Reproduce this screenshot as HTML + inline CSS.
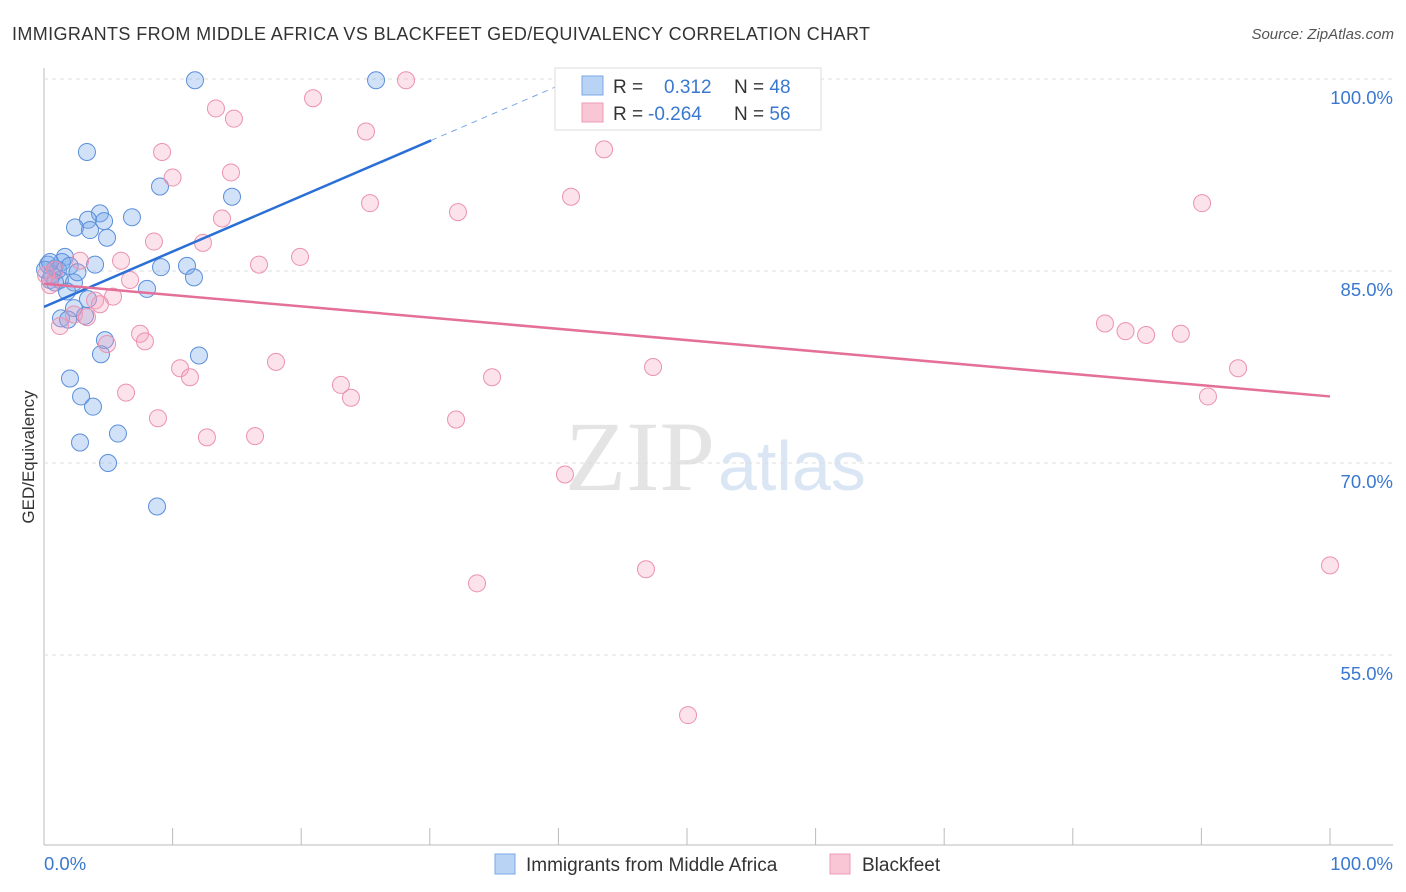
<!DOCTYPE html>
<html><head><meta charset="utf-8"><style>
body{margin:0;background:#fff;font-family:"Liberation Sans",sans-serif}
</style></head><body>
<svg id="c" width="1406" height="892" xmlns="http://www.w3.org/2000/svg" style="display:block">
<text x="12" y="40" font-size="18" fill="#333" textLength="858" lengthAdjust="spacing">IMMIGRANTS FROM MIDDLE AFRICA VS BLACKFEET GED/EQUIVALENCY CORRELATION CHART</text>
<text x="1394" y="39" font-size="15" fill="#555" font-style="italic" text-anchor="end">Source: ZipAtlas.com</text>
<text x="34" y="457" font-size="17" fill="#333" transform="rotate(-90 34 457)" text-anchor="middle">GED/Equivalency</text>
<text x="715" y="490" font-size="100" fill="#e4e4e4" font-family="Liberation Serif" text-anchor="end">ZIP</text>
<text x="718" y="490" font-size="70" fill="#dbe6f5">atlas</text>
<g id="grid"></g><g id="pts"></g><g id="lines"></g>
<g>
<rect x="555" y="68" width="266" height="62" fill="#fff" stroke="#ddd"/>
<rect x="582" y="76" width="21" height="19" fill="#b9d3f5" stroke="#7aa7e6"/>
<rect x="582" y="103" width="21" height="19" fill="#f9c6d5" stroke="#ee9bb5"/>
<text x="613" y="93" font-size="19" fill="#333">R =</text>
<text x="664" y="93" font-size="19" fill="#3a78d0">0.312</text>
<text x="734" y="93" font-size="19" fill="#333">N = <tspan fill="#3a78d0">48</tspan></text>
<text x="613" y="120" font-size="19" fill="#333">R =</text>
<text x="648" y="120" font-size="19" fill="#3a78d0">-0.264</text>
<text x="734" y="120" font-size="19" fill="#333">N = <tspan fill="#3a78d0">56</tspan></text>
</g>
<g>
<rect x="495" y="854" width="20" height="20" fill="#b9d3f5" stroke="#7aa7e6"/>
<text x="526" y="871" font-size="19" fill="#333">Immigrants from Middle Africa</text>
<rect x="830" y="854" width="20" height="20" fill="#f9c6d5" stroke="#ee9bb5"/>
<text x="862" y="871" font-size="19" fill="#333">Blackfeet</text>
</g>
</svg>
<script>
const yTicks=[100,85,70,55];
const yTickLabels=["100.0%","85.0%","70.0%","55.0%"];
const xTickLabels=["0.0%","100.0%"];
const blueX=[11.74,25.82,3.34,9.02,14.62,6.84,4.35,3.42,2.41,3.58,4.67,4.90,1.63,3.97,9.10,11.12,11.66,8.01,0.31,0.86,1.24,0.47,2.33,1.79,3.42,2.33,1.32,1.87,3.19,4.74,4.43,12.05,2.02,2.88,3.81,5.75,2.80,4.98,8.79,0.62,1.09,0.08,0.86,1.4,0.47,2.0,2.6];
const blueY=[99.9,99.9,94.3,91.6,90.8,89.2,89.5,89.0,88.4,88.2,88.9,87.6,86.1,85.5,85.3,85.4,84.5,83.6,85.5,85.2,84.3,84.3,84.1,83.4,82.8,82.1,81.3,81.2,81.5,79.6,78.5,78.4,76.6,75.2,74.4,72.3,71.6,70.0,66.6,84.7,85.1,85.1,84.1,85.7,85.7,85.4,84.9];
const pinkX=[28.15,20.92,13.37,14.77,25.04,9.18,43.55,10.0,14.54,25.35,40.98,32.19,13.84,90.05,8.55,12.36,19.91,5.99,16.72,2.80,6.69,5.37,3.97,4.35,2.33,3.34,1.24,7.47,7.85,4.90,82.5,84.1,85.7,88.4,18.04,10.58,11.35,47.36,34.84,92.85,23.09,23.87,6.38,90.51,8.86,32.04,12.67,16.41,40.51,33.67,46.81,100.0,50.08,0.47,0.16,0.86];
const pinkY=[99.9,98.5,97.7,96.9,95.9,94.3,94.5,92.3,92.7,90.3,90.8,89.6,89.1,90.3,87.3,87.2,86.1,85.8,85.5,85.8,84.3,83.0,82.7,82.4,81.6,81.4,80.7,80.1,79.5,79.3,80.9,80.3,80.0,80.1,77.9,77.4,76.7,77.5,76.7,77.4,76.1,75.1,75.5,75.2,73.5,73.4,72.0,72.1,69.1,60.6,61.7,62.0,50.3,83.9,84.7,85.1];
const blueTrend=[82.2,95.2];const blueTrendX=[0,30.1];const blueDashX=40.1;
const pinkTrend=[84.0,75.2];const pinkTrendX=[0,100];
const X=v=>44+v*12.86, Y=v=>79+(100-v)*12.8;
const NS="http://www.w3.org/2000/svg";
function mk(t,a,p){const e=document.createElementNS(NS,t);for(const k in a)e.setAttribute(k,a[k]);p.appendChild(e);return e;}
const g=document.getElementById('grid');
let e=mk('line',{x1:44,y1:68,x2:44,y2:845,stroke:'#bbb'},g);


e=mk('line',{x1:44,y1:845,x2:1393,y2:845,stroke:'#bbb'},g);


yTicks.forEach((t,i)=>{
 e=mk('line',{x1:44,x2:1393,y1:Y(t),y2:Y(t),stroke:'#ddd','stroke-dasharray':'4,4'},g);
 
 
 e=mk('text',{x:1393,y:Y(t)+25,'font-size':18.5,fill:'#3a78d0','text-anchor':'end'},g);
 e.textContent=yTickLabels[i];
 
 
});
for(let i=0;i<=10;i++){
 e=mk('line',{x1:X(i*10),x2:X(i*10),y1:828,y2:845,stroke:'#bbb'},g);
 
 
}
e=mk('text',{x:44,y:870,'font-size':18.5,fill:'#3a78d0'},g);e.textContent=xTickLabels[0];


e=mk('text',{x:1393,y:870,'font-size':18.5,fill:'#3a78d0','text-anchor':'end'},g);e.textContent=xTickLabels[1];


const p=document.getElementById('pts');
blueX.forEach((x,i)=>{e=mk('circle',{cx:X(x),cy:Y(blueY[i]),r:8.5,fill:'rgba(120,168,235,0.35)',stroke:'#5b8fdb','stroke-width':1},p);
 
 });
pinkX.forEach((x,i)=>{e=mk('circle',{cx:X(x),cy:Y(pinkY[i]),r:8.5,fill:'rgba(245,160,190,0.3)',stroke:'#eb92b0','stroke-width':1},p);
 
 });
const l=document.getElementById('lines');
const sl=(blueTrend[1]-blueTrend[0])/(blueTrendX[1]-blueTrendX[0]);
e=mk('line',{x1:X(blueTrendX[0]),y1:Y(blueTrend[0]),x2:X(blueTrendX[1]),y2:Y(blueTrend[1]),stroke:'#2a6fd6','stroke-width':2.5},l);


e=mk('line',{x1:X(blueTrendX[1]),y1:Y(blueTrend[1]),x2:X(blueDashX),y2:Y(blueTrend[0]+sl*blueDashX),stroke:'#7aa7e6','stroke-width':1,'stroke-dasharray':'6,5'},l);


e=mk('line',{x1:X(pinkTrendX[0]),y1:Y(pinkTrend[0]),x2:X(pinkTrendX[1]),y2:Y(pinkTrend[1]),stroke:'#e4709a','stroke-width':2.5},l);


</script>
</body></html>
